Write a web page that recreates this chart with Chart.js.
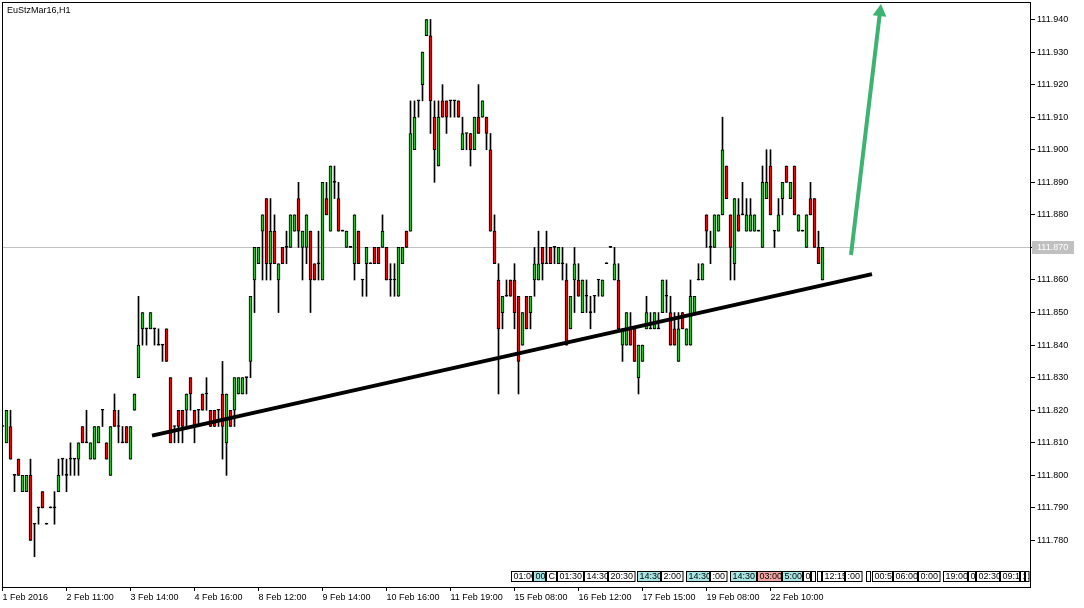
<!DOCTYPE html>
<html>
<head>
<meta charset="utf-8">
<script src="https://cdn.jsdelivr.net/npm/chart.js@4.4.1/dist/chart.umd.min.js"></script>
<style>
  html, body { margin: 0; padding: 0; background: #fff; }
  canvas { display: block; }
</style>
</head>
<body>
<canvas id="chart" width="1084" height="608"></canvas>
<script>
// EuStzMar16, H1 - one entry per bar, left to right (bar 0 is cut by the left edge)
const openPx = [
  111.815,111.810,111.815,111.800,111.805,111.795,111.795,111.800,111.785,111.790,111.795,111.785,111.790,111.790,111.795,111.805,
  111.800,111.805,111.805,111.805,111.815,111.810,111.805,111.805,111.810,111.820,111.810,111.800,111.820,111.815,111.810,111.815,
  111.805,111.820,111.830,111.845,111.845,111.845,111.845,111.840,111.840,111.845,111.830,111.815,111.820,111.820,111.820,111.830,
  111.820,111.820,111.825,111.825,111.820,111.820,111.820,111.825,111.810,111.820,111.820,111.825,111.825,111.830,111.835,111.860,
  111.865,111.875,111.885,111.865,111.875,111.860,111.870,111.870,111.870,111.875,111.885,111.870,111.870,111.875,111.865,111.865,
  111.860,111.885,111.875,111.890,111.885,111.875,111.870,111.870,111.865,111.875,111.860,111.865,111.865,111.870,111.870,111.870,
  111.870,111.860,111.860,111.855,111.865,111.875,111.875,111.900,111.915,111.920,111.935,111.935,111.910,111.895,111.915,111.915,
  111.915,111.915,111.915,111.900,111.905,111.905,111.900,111.910,111.910,111.910,111.900,111.875,111.860,111.850,111.855,111.860,
  111.860,111.855,111.840,111.855,111.850,111.860,111.860,111.870,111.865,111.870,111.870,111.865,111.865,111.860,111.845,111.860,
  111.860,111.850,111.855,111.850,111.855,111.860,111.855,111.865,111.870,111.860,111.860,111.840,111.840,111.845,111.845,111.830,
  111.835,111.845,111.845,111.845,111.845,111.850,111.855,111.850,111.845,111.835,111.850,111.840,111.840,111.850,111.860,111.860,
  111.880,111.870,111.870,111.875,111.880,111.895,111.880,111.865,111.880,111.880,111.875,111.875,111.875,111.875,111.870,111.885,
  111.895,111.875,111.875,111.885,111.895,111.885,111.895,111.875,111.875,111.870,111.885,111.885,111.870,111.860
];
const highPx = [
  111.815,111.820,111.820,111.800,111.805,111.800,111.800,111.805,111.785,111.790,111.795,111.785,111.790,111.795,111.805,111.805,
  111.805,111.810,111.805,111.810,111.815,111.820,111.810,111.815,111.815,111.820,111.810,111.815,111.825,111.820,111.815,111.815,
  111.815,111.825,111.855,111.850,111.845,111.850,111.845,111.845,111.840,111.845,111.830,111.815,111.820,111.820,111.825,111.830,
  111.820,111.820,111.825,111.830,111.820,111.820,111.820,111.835,111.825,111.820,111.830,111.830,111.830,111.830,111.855,111.870,
  111.870,111.880,111.885,111.885,111.880,111.865,111.870,111.875,111.880,111.880,111.890,111.875,111.880,111.875,111.865,111.875,
  111.890,111.890,111.895,111.895,111.890,111.875,111.875,111.870,111.880,111.875,111.860,111.870,111.865,111.870,111.870,111.880,
  111.870,111.865,111.865,111.870,111.870,111.875,111.915,111.915,111.915,111.930,111.940,111.940,111.915,111.915,111.920,111.915,
  111.915,111.915,111.915,111.910,111.905,111.905,111.910,111.920,111.915,111.910,111.905,111.880,111.865,111.855,111.860,111.860,
  111.865,111.855,111.850,111.855,111.855,111.870,111.875,111.870,111.875,111.870,111.870,111.870,111.870,111.865,111.855,111.870,
  111.865,111.860,111.860,111.855,111.855,111.860,111.860,111.865,111.870,111.870,111.865,111.845,111.850,111.850,111.845,111.840,
  111.840,111.855,111.850,111.850,111.850,111.860,111.860,111.855,111.850,111.850,111.850,111.845,111.860,111.855,111.865,111.865,
  111.880,111.875,111.880,111.880,111.910,111.895,111.880,111.885,111.885,111.890,111.885,111.885,111.880,111.875,111.895,111.900,
  111.900,111.875,111.885,111.890,111.895,111.890,111.895,111.880,111.875,111.880,111.890,111.885,111.875,111.870
];
const lowPx = [
  111.815,111.810,111.805,111.795,111.800,111.795,111.795,111.780,111.775,111.785,111.790,111.785,111.790,111.785,111.795,111.800,
  111.795,111.800,111.800,111.800,111.810,111.810,111.805,111.805,111.810,111.815,111.805,111.800,111.815,111.810,111.810,111.810,
  111.805,111.820,111.830,111.840,111.840,111.845,111.840,111.840,111.835,111.835,111.810,111.810,111.810,111.810,111.815,111.820,
  111.810,111.815,111.820,111.820,111.815,111.815,111.815,111.805,111.800,111.815,111.815,111.825,111.825,111.825,111.830,111.850,
  111.865,111.860,111.860,111.860,111.865,111.850,111.865,111.865,111.870,111.875,111.870,111.860,111.865,111.850,111.860,111.860,
  111.860,111.880,111.875,111.885,111.875,111.875,111.870,111.870,111.860,111.865,111.855,111.855,111.865,111.865,111.865,111.870,
  111.860,111.855,111.855,111.855,111.865,111.870,111.875,111.900,111.910,111.915,111.935,111.905,111.890,111.895,111.910,111.905,
  111.910,111.910,111.910,111.900,111.900,111.895,111.900,111.905,111.910,111.900,111.875,111.865,111.825,111.845,111.855,111.855,
  111.845,111.825,111.840,111.845,111.845,111.855,111.860,111.860,111.865,111.865,111.865,111.865,111.860,111.840,111.845,111.850,
  111.855,111.850,111.850,111.845,111.850,111.855,111.855,111.865,111.870,111.860,111.845,111.835,111.840,111.840,111.835,111.825,
  111.835,111.845,111.845,111.845,111.845,111.850,111.850,111.840,111.840,111.835,111.845,111.840,111.840,111.850,111.860,111.860,
  111.870,111.865,111.870,111.875,111.880,111.885,111.860,111.860,111.875,111.880,111.875,111.875,111.875,111.875,111.870,111.885,
  111.880,111.870,111.875,111.880,111.890,111.885,111.880,111.875,111.875,111.870,111.880,111.870,111.865,111.860
];
const closePx = [
  111.815,111.820,111.805,111.800,111.800,111.800,111.800,111.780,111.785,111.790,111.790,111.785,111.790,111.790,111.800,111.805,
  111.800,111.805,111.805,111.810,111.810,111.810,111.810,111.815,111.815,111.820,111.805,111.815,111.815,111.815,111.810,111.810,
  111.815,111.825,111.840,111.850,111.845,111.850,111.845,111.840,111.840,111.835,111.810,111.815,111.815,111.815,111.825,111.825,
  111.815,111.820,111.820,111.825,111.815,111.815,111.820,111.815,111.825,111.815,111.830,111.830,111.830,111.830,111.855,111.870,
  111.870,111.880,111.865,111.875,111.865,111.865,111.865,111.870,111.880,111.880,111.875,111.875,111.880,111.860,111.860,111.865,
  111.890,111.880,111.895,111.890,111.875,111.875,111.875,111.870,111.880,111.865,111.860,111.870,111.865,111.865,111.865,111.875,
  111.860,111.860,111.860,111.870,111.870,111.870,111.905,111.910,111.915,111.930,111.940,111.915,111.900,111.910,111.910,111.910,
  111.915,111.915,111.910,111.905,111.905,111.900,111.910,111.905,111.915,111.905,111.875,111.865,111.845,111.855,111.855,111.855,
  111.850,111.835,111.850,111.845,111.855,111.865,111.865,111.865,111.865,111.865,111.870,111.870,111.865,111.840,111.855,111.865,
  111.855,111.860,111.855,111.850,111.855,111.860,111.860,111.865,111.870,111.865,111.845,111.845,111.850,111.840,111.835,111.840,
  111.840,111.850,111.845,111.850,111.845,111.860,111.855,111.840,111.840,111.845,111.845,111.845,111.855,111.855,111.860,111.865,
  111.875,111.870,111.880,111.880,111.900,111.885,111.870,111.885,111.875,111.880,111.880,111.880,111.880,111.875,111.890,111.890,
  111.880,111.875,111.880,111.890,111.890,111.890,111.880,111.880,111.875,111.880,111.880,111.870,111.865,111.870
];

// time axis labels and the bar each one sits on
const timeLabels = ['1 Feb 2016', '2 Feb 11:00', '3 Feb 14:00', '4 Feb 16:00', '8 Feb 12:00', '9 Feb 14:00',
  '10 Feb 16:00', '11 Feb 19:00', '15 Feb 08:00', '16 Feb 12:00', '17 Feb 15:00', '19 Feb 08:00', '22 Feb 10:00'];
const timeLabelBars = [0, 16, 32, 48, 64, 80, 96, 112, 128, 144, 160, 176, 192];

const priceTicks = [111.78, 111.79, 111.80, 111.81, 111.82, 111.83, 111.84, 111.85, 111.86,
  111.87, 111.88, 111.89, 111.90, 111.91, 111.92, 111.93, 111.94];
const bidPrice = 111.870;

// drawn objects: trend line and the arrow (bar index / price)
const trendBars = [37.375, 217.375];
const trendPx = [111.8122, 111.8618];
const arrowBars = [212.125, 219.375];
const arrowPx = [111.8677, 111.9423];

// calendar events strip at the bottom
const eventBars = [127.1, 132.6, 135.9, 138.6, 145.4, 151.4, 158.6, 164.6, 170.9, 176.9, 181.9, 188.6, 194.9,
  200.1, 202.1, 203.6, 204.9, 210.6, 215.9, 217.4, 222.6, 228.9, 235.1, 241.4, 243.4, 249.4, 254.4, 255.6];
const eventText = ['01:00', '00', 'C:', '01:30', '14:30', '20:30', '14:30', '2:00', '14:30', ':00', '14:30', '03:00', '5:00',
  '0', '', '', '12:15', ':00', '', '00:5', '06:00', '0:00', '19:00', '0', '02:30', '09:1', '1', '1'];
const eventKind = [0, 1, 0, 0, 0, 0, 1, 0, 1, 0, 1, 2, 1, 0, 0, 0, 0, 0, 0, 0, 0, 0, 0, 0, 0, 0, 0, 0];

const BULL = '#22c322';
const BEAR = '#f00000';
const FONT = '"Liberation Sans", Arial, sans-serif';

Chart.defaults.font.family = FONT;
Chart.defaults.font.size = 9;
Chart.defaults.color = '#000';

const bodies = openPx.map((o, i) => ({ x: i, y: [o, closePx[i]] }));
const wicks = lowPx.map((l, i) => ({ x: i, y: [l, highPx[i]] }));
const candleColor = (ctx) => {
  const i = ctx.dataIndex;
  if (closePx[i] > openPx[i]) return BULL;
  if (closePx[i] < openPx[i]) return BEAR;
  return '#000';
};

// no label overflow padding, the plot runs right to the edges
const noPad = (s) => { s.paddingLeft = 0; s.paddingRight = 0; s.paddingTop = 0; s.paddingBottom = 0; };

const frame = {
  id: 'frame',
  beforeDatasetsDraw(chart) {
    const { ctx, chartArea: a, scales } = chart;
    const y = Math.round(scales.y.getPixelForValue(bidPrice)) + 0.5;
    ctx.save();
    ctx.strokeStyle = '#c0c0c0';
    ctx.lineWidth = 1;
    ctx.beginPath();
    ctx.moveTo(a.left, y);
    ctx.lineTo(a.right, y);
    ctx.stroke();
    ctx.restore();
  },
  afterDatasetsDraw(chart) {
    const { ctx, chartArea: a, scales } = chart;
    const fills = ['#ffffff', '#a8e6e6', '#f2a4a4'];
    const top = a.bottom - 15.5;
    ctx.save();
    ctx.font = '9px ' + FONT;
    ctx.textBaseline = 'middle';
    ctx.lineWidth = 1;
    eventBars.forEach((b, k) => {
      const x0 = Math.round(scales.x.getPixelForValue(b)) + 0.5;
      let w = ctx.measureText(eventText[k]).width + 4;
      const next = k < eventBars.length - 1 ? Math.round(scales.x.getPixelForValue(eventBars[k + 1])) + 0.5 : a.right;
      w = Math.max(2, Math.min(w, next - x0 - 1));
      ctx.fillStyle = fills[eventKind[k]];
      ctx.fillRect(x0, top, w, 10);
      ctx.strokeStyle = '#000';
      ctx.strokeRect(x0, top, w, 10);
      ctx.save();
      ctx.beginPath();
      ctx.rect(x0, top, w, 10);
      ctx.clip();
      ctx.fillStyle = '#000';
      ctx.fillText(eventText[k], x0 + 2, top + 5.5);
      ctx.restore();
    });
    ctx.restore();
  },
  afterDraw(chart) {
    const { ctx, chartArea: a, scales } = chart;
    ctx.save();
    ctx.strokeStyle = '#000';
    ctx.lineWidth = 1;
    ctx.strokeRect(a.left + 0.5, a.top + 0.5, a.right - a.left, a.bottom - a.top);

    const y = Math.round(scales.y.getPixelForValue(bidPrice));
    ctx.fillStyle = '#c0c0c0';
    ctx.fillRect(a.right + 2, y - 6, 42, 13);
    ctx.fillStyle = '#fff';
    ctx.font = '9px ' + FONT;
    ctx.textBaseline = 'middle';
    ctx.fillText(bidPrice.toFixed(3), a.right + 7, y + 1);

    ctx.fillStyle = '#000';
    ctx.textBaseline = 'alphabetic';
    ctx.fillText('EuStzMar16,H1', 7, 13);
    ctx.restore();
  }
};

new Chart(document.getElementById('chart'), {
  type: 'bar',
  data: {
    datasets: [
      {
        type: 'line',
        data: trendBars.map((b, i) => ({ x: b, y: trendPx[i] })),
        borderColor: '#000',
        borderWidth: 4,
        pointRadius: 0,
        order: 0
      },
      {
        type: 'line',
        data: arrowBars.map((b, i) => ({ x: b, y: arrowPx[i] })),
        borderColor: '#3cb371',
        borderWidth: 4,
        pointRadius: [0, 8],
        pointStyle: 'triangle',
        pointRotation: 6.8,
        pointBackgroundColor: '#3cb371',
        pointBorderWidth: 0,
        clip: false,
        order: 0
      },
      {
        data: bodies,
        backgroundColor: candleColor,
        borderColor: '#000',
        borderWidth: 1,
        borderSkipped: false,
        barThickness: 3,
        minBarLength: 1,
        grouped: false,
        order: 1
      },
      {
        data: wicks,
        backgroundColor: '#000',
        borderWidth: 0,
        barThickness: 1,
        minBarLength: 1,
        grouped: false,
        order: 2
      }
    ]
  },
  options: {
    responsive: false,
    devicePixelRatio: 1,
    animation: false,
    events: [],
    layout: { autoPadding: false, padding: { left: 2, top: 2, right: 0, bottom: 0 } },
    plugins: { legend: { display: false }, tooltip: { enabled: false } },
    scales: {
      x: {
        type: 'linear',
        min: -0.125,
        max: 256.875,
        offset: false,
        border: { display: false },
        grid: { display: true, drawOnChartArea: false, drawTicks: true, tickLength: 4, color: '#000', offset: false },
        afterBuildTicks: (s) => { s.ticks = timeLabelBars.map(v => ({ value: v })); },
        afterFit: (s) => { s.height = 21; noPad(s); },
        ticks: {
          autoSkip: false,
          maxRotation: 0,
          minRotation: 0,
          align: 'start',
          padding: 1,
          callback: (v) => timeLabels[timeLabelBars.indexOf(v)]
        }
      },
      y: {
        position: 'right',
        min: 111.76572,
        max: 111.94537,
        border: { display: false },
        grid: { display: true, drawOnChartArea: false, drawTicks: true, tickLength: 5, color: '#000' },
        afterBuildTicks: (s) => { s.ticks = priceTicks.map(v => ({ value: v })); },
        afterFit: (s) => { s.width = 54; noPad(s); },
        ticks: {
          padding: 2,
          callback: (v) => v.toFixed(3)
        }
      }
    }
  },
  plugins: [frame]
});
</script>
</body>
</html>
